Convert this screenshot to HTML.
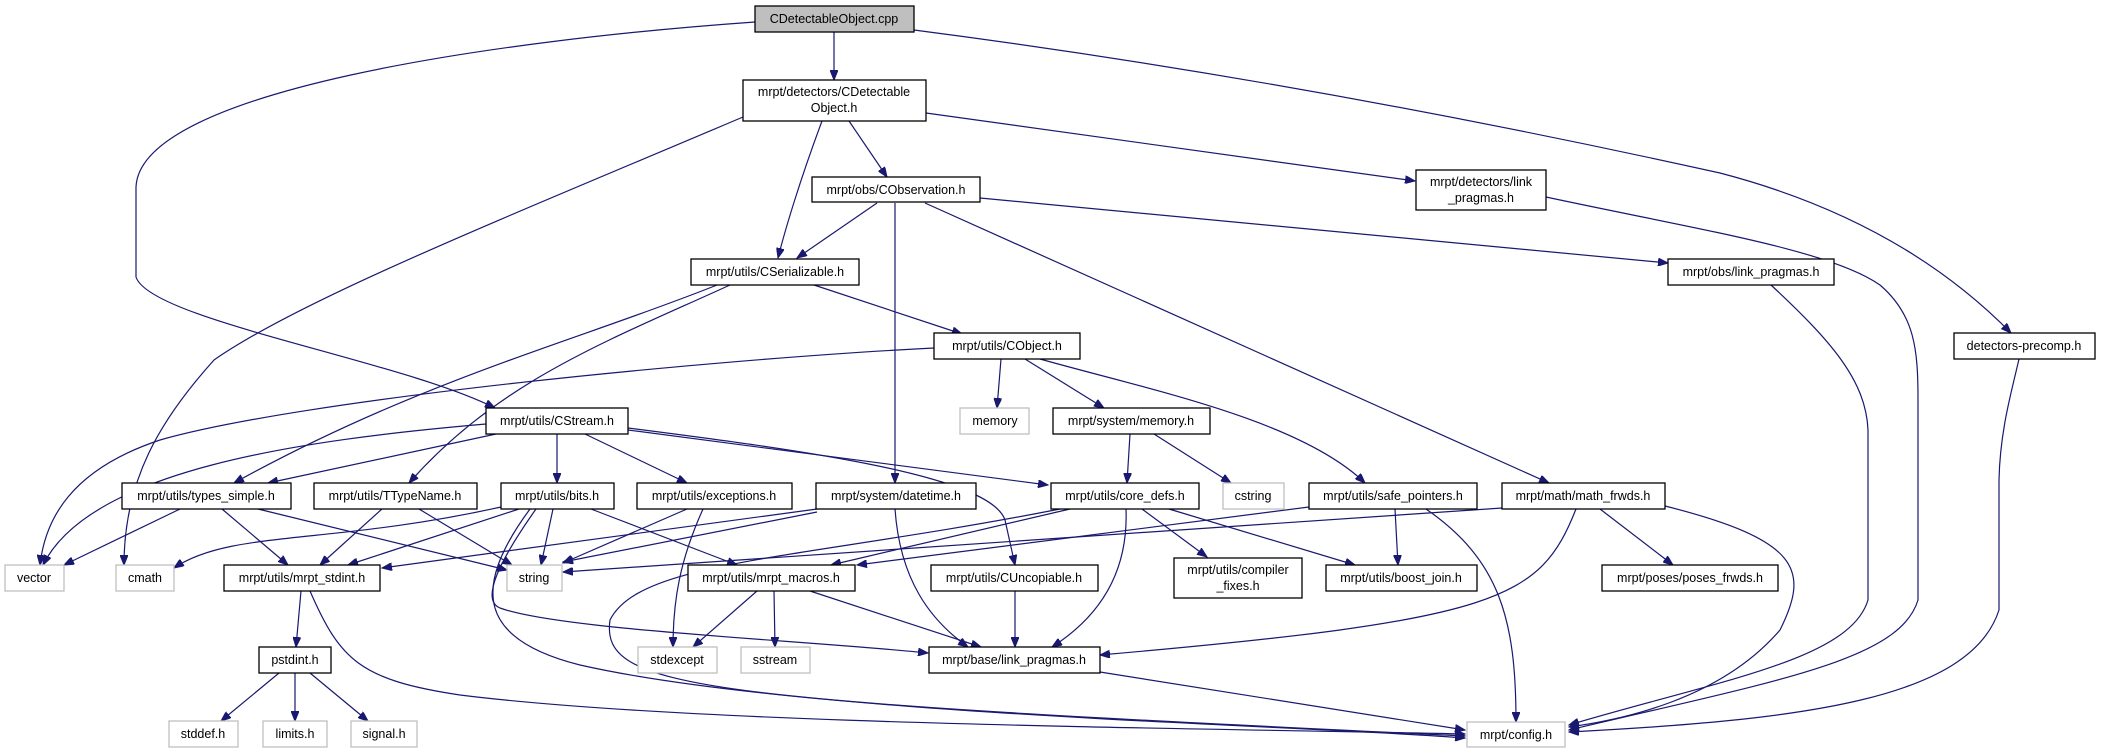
<!DOCTYPE html>
<html><head><meta charset="utf-8"><style>
html,body{margin:0;padding:0;background:#fff;}
svg{display:block;}
text{font-family:"Liberation Sans",Arial,sans-serif;font-size:12.5px;fill:#000;text-anchor:middle;}
.n{fill:#fff;stroke:#000;stroke-width:1.3;}
.g{fill:#fff;stroke:#bfbfbf;stroke-width:1.3;}
.r{fill:#bfbfbf;stroke:#000;stroke-width:1.3;}
path{fill:none;stroke:#191970;stroke-width:1.2;}
</style></head><body>
<svg width="2103" height="753" viewBox="0 0 2103 753" xmlns="http://www.w3.org/2000/svg">
<defs><marker id="a" markerWidth="11" markerHeight="8" refX="10" refY="4" orient="auto" markerUnits="userSpaceOnUse"><path d="M0,0 L10,4 L0,8 Z" style="fill:#191970;stroke:#191970;stroke-width:1"/></marker></defs>
<g marker-end="url(#a)">
<path d="M834,32 L834,80"/>
<path d="M755,22 C500,40 140,90 136,187 L136,277 C150,320 400,360 495,408"/>
<path d="M914,30 Q1300,80 1720,173 Q1900,220 2011,333"/>
<path d="M849,121 L887,177"/>
<path d="M822,121 C800,180 785,230 778,258"/>
<path d="M743,117 C500,220 300,300 214,360 C160,420 124,480 124,565"/>
<path d="M926,113 L1415,181"/>
<path d="M877,203 L797,258"/>
<path d="M895,203 L895,483"/>
<path d="M980,198 L1668,263"/>
<path d="M925,203 L1549,483"/>
<path d="M814,285 L962,334"/>
<path d="M717,285 C580,340 420,380 234,483"/>
<path d="M730,285 C610,340 500,380 409,483"/>
<path d="M934,348 C700,360 300,400 160,440 C70,470 45,520 40,565"/>
<path d="M1001,359 L997,408"/>
<path d="M1025,359 L1104,408"/>
<path d="M1040,359 C1150,390 1300,420 1365,483"/>
<path d="M486,424 C300,440 90,470 43,565"/>
<path d="M496,434 L268,483"/>
<path d="M557,434 L557,483"/>
<path d="M585,434 L687,483"/>
<path d="M628,430 L1048,485"/>
<path d="M628,428 C800,450 990,475 1005,520 L1015,565"/>
<path d="M180,509 L64,565"/>
<path d="M222,509 L288,565"/>
<path d="M258,509 L507,570"/>
<path d="M382,509 L320,565"/>
<path d="M419,509 L512,565"/>
<path d="M501,507 C330,545 230,530 174,568"/>
<path d="M519,509 L348,565"/>
<path d="M553,509 L541,565"/>
<path d="M591,509 L737,565"/>
<path d="M536,509 C500,560 480,600 500,608 C560,630 800,640 928,653"/>
<path d="M530,509 C470,590 480,640 580,665 C800,715 1300,725 1465,738"/>
<path d="M687,509 L563,563"/>
<path d="M703,509 C680,560 673,600 673,647"/>
<path d="M817,509 L382,568"/>
<path d="M817,512 L563,562"/>
<path d="M895,509 C900,580 930,620 968,647"/>
<path d="M1070,509 L831,565"/>
<path d="M1502,508 L563,572"/>
<path d="M1309,507 L857,565"/>
<path d="M1060,509 C800,560 640,560 610,620 C600,690 700,700 1465,736"/>
<path d="M1126,509 C1128,560 1110,610 1052,647"/>
<path d="M1142,509 L1207,557"/>
<path d="M1169,509 L1355,565"/>
<path d="M1130,434 L1127,483"/>
<path d="M1154,434 L1231,483"/>
<path d="M1395,509 L1398,565"/>
<path d="M1426,509 C1500,560 1516,620 1516,722"/>
<path d="M1576,509 C1540,600 1500,620 1100,655"/>
<path d="M1600,509 L1673,565"/>
<path d="M1665,506 C1800,540 1810,570 1780,630 C1720,700 1620,720 1569,727"/>
<path d="M757,591 L693,647"/>
<path d="M774,591 L775,647"/>
<path d="M810,591 L981,647"/>
<path d="M1015,591 L1015,647"/>
<path d="M1100,672 L1465,730"/>
<path d="M301,591 L296,647"/>
<path d="M310,591 C340,660 360,680 460,695 C700,725 1200,728 1465,734"/>
<path d="M279,673 L221,721"/>
<path d="M295,673 L295,721"/>
<path d="M310,673 L368,721"/>
<path d="M1546,197 C1700,230 1830,250 1880,285 C1915,315 1918,350 1918,400 L1918,600 C1900,660 1780,680 1569,730"/>
<path d="M1771,285 C1830,340 1866,380 1868,430 L1868,600 C1850,660 1720,680 1569,725"/>
<path d="M2019,359 C2012,390 2000,430 1999,480 L1999,610 C1970,700 1800,720 1569,732"/>
</g>
<rect class="r" x="755" y="6" width="159" height="26"/><text x="834" y="23">CDetectableObject.cpp</text>
<rect class="n" x="743" y="80" width="183" height="41"/><text x="834" y="96">mrpt/detectors/CDetectable</text><text x="834" y="112">Object.h</text>
<rect class="n" x="812" y="177" width="168" height="25"/><text x="896" y="194">mrpt/obs/CObservation.h</text>
<rect class="n" x="691" y="259" width="168" height="26"/><text x="775" y="276">mrpt/utils/CSerializable.h</text>
<rect class="n" x="934" y="333" width="146" height="26"/><text x="1007" y="350">mrpt/utils/CObject.h</text>
<rect class="n" x="1416" y="170" width="130" height="40"/><text x="1481" y="186">mrpt/detectors/link</text><text x="1481" y="202">_pragmas.h</text>
<rect class="n" x="1668" y="259" width="166" height="26"/><text x="1751" y="276">mrpt/obs/link_pragmas.h</text>
<rect class="n" x="1954" y="333" width="141" height="26"/><text x="2024" y="350">detectors-precomp.h</text>
<rect class="n" x="486" y="408" width="142" height="26"/><text x="557" y="425">mrpt/utils/CStream.h</text>
<rect class="g" x="960" y="408" width="69" height="26"/><text x="995" y="425">memory</text>
<rect class="n" x="1053" y="408" width="157" height="26"/><text x="1131" y="425">mrpt/system/memory.h</text>
<rect class="n" x="122" y="483" width="169" height="26"/><text x="206" y="500">mrpt/utils/types_simple.h</text>
<rect class="n" x="314" y="483" width="163" height="26"/><text x="395" y="500">mrpt/utils/TTypeName.h</text>
<rect class="n" x="501" y="483" width="113" height="26"/><text x="557" y="500">mrpt/utils/bits.h</text>
<rect class="n" x="637" y="483" width="155" height="26"/><text x="714" y="500">mrpt/utils/exceptions.h</text>
<rect class="n" x="816" y="483" width="160" height="26"/><text x="896" y="500">mrpt/system/datetime.h</text>
<rect class="n" x="1051" y="483" width="148" height="26"/><text x="1125" y="500">mrpt/utils/core_defs.h</text>
<rect class="g" x="1223" y="483" width="61" height="26"/><text x="1253" y="500">cstring</text>
<rect class="n" x="1309" y="483" width="168" height="26"/><text x="1393" y="500">mrpt/utils/safe_pointers.h</text>
<rect class="n" x="1502" y="483" width="163" height="26"/><text x="1583" y="500">mrpt/math/math_frwds.h</text>
<rect class="g" x="5" y="565" width="59" height="26"/><text x="34" y="582">vector</text>
<rect class="g" x="116" y="565" width="58" height="26"/><text x="145" y="582">cmath</text>
<rect class="n" x="224" y="565" width="156" height="26"/><text x="302" y="582">mrpt/utils/mrpt_stdint.h</text>
<rect class="g" x="507" y="565" width="55" height="26"/><text x="534" y="582">string</text>
<rect class="n" x="688" y="565" width="167" height="26"/><text x="771" y="582">mrpt/utils/mrpt_macros.h</text>
<rect class="n" x="931" y="565" width="167" height="26"/><text x="1014" y="582">mrpt/utils/CUncopiable.h</text>
<rect class="n" x="1174" y="558" width="128" height="40"/><text x="1238" y="574">mrpt/utils/compiler</text><text x="1238" y="590">_fixes.h</text>
<rect class="n" x="1326" y="565" width="151" height="26"/><text x="1401" y="582">mrpt/utils/boost_join.h</text>
<rect class="n" x="1602" y="565" width="176" height="26"/><text x="1690" y="582">mrpt/poses/poses_frwds.h</text>
<rect class="n" x="259" y="647" width="72" height="26"/><text x="295" y="664">pstdint.h</text>
<rect class="g" x="638" y="647" width="79" height="26"/><text x="677" y="664">stdexcept</text>
<rect class="g" x="741" y="647" width="69" height="26"/><text x="775" y="664">sstream</text>
<rect class="n" x="929" y="647" width="171" height="26"/><text x="1014" y="664">mrpt/base/link_pragmas.h</text>
<rect class="g" x="169" y="721" width="69" height="26"/><text x="203" y="738">stddef.h</text>
<rect class="g" x="263" y="721" width="64" height="26"/><text x="295" y="738">limits.h</text>
<rect class="g" x="351" y="721" width="66" height="26"/><text x="384" y="738">signal.h</text>
<rect class="g" x="1467" y="722" width="98" height="25"/><text x="1516" y="739">mrpt/config.h</text>
</svg>
</body></html>
